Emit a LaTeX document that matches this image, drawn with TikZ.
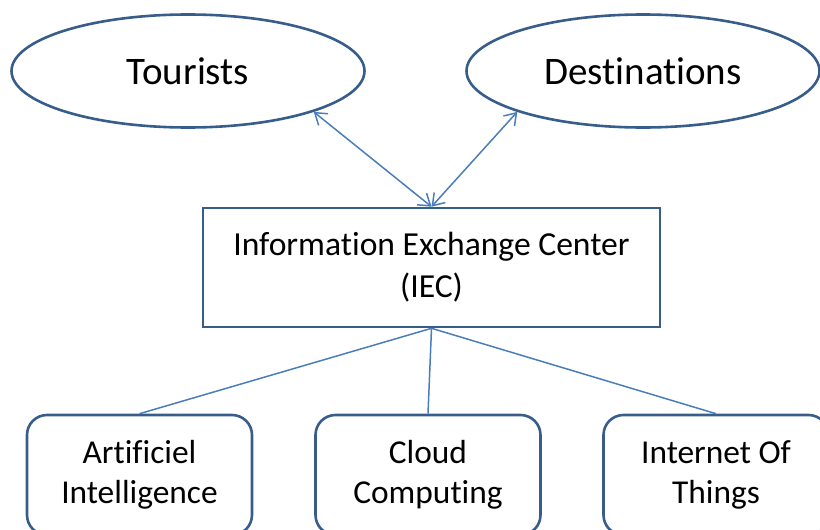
\documentclass[tikz,border=0pt]{standalone}
\usepackage{fontspec}
\setmainfont{Carlito}[Ligatures=NoCommon]
\usetikzlibrary{arrows.meta,shapes.geometric}
\definecolor{ovalBlue}{RGB}{56,93,138}
\definecolor{linkBlue}{RGB}{74,126,187}

\begin{document}
\begin{tikzpicture}[x=0.5pt,y=-0.5pt,
    party/.style={ellipse, draw=ovalBlue, line width=1.3pt, minimum width=176.5pt, minimum height=56.5pt, font=\fontsize{19.5}{23}\selectfont},
    hub/.style={rectangle, draw=ovalBlue, line width=1.3pt, minimum width=228.5pt, minimum height=59.5pt, align=center, font=\fontsize{16.8}{21}\selectfont},
    tech/.style={rectangle, rounded corners=10pt, draw=ovalBlue, line width=1.3pt, minimum width=112.5pt, minimum height=60pt, align=center, font=\fontsize{16.7}{20}\selectfont},
    link/.style={linkBlue, line width=0.75pt},
    barb/.style={{Straight Barb[length=5.5pt,width=7.5pt]}-{Straight Barb[length=5.5pt,width=7.5pt]}}]
    \useasboundingbox (0,0) rectangle (820,530);
    \clip (0,0) rectangle (820,530);

    \node[party] (tourists) at (188,71) {Tourists};
    \node[party] (dest) at (643,71) {Destinations};

    \node[hub] (iec) at (431.5,267.5) {Information Exchange Center\\(IEC)};

    \node[tech] (ai) at (139.5,475) {Artificiel\\Intelligence};
    \node[tech] (cloud) at (428,475) {Cloud\\Computing};
    \node[tech] (iot) at (716,475) {Internet Of\\Things};

    \draw[link, barb] (tourists.-18) -- (iec.north);
    \draw[link, barb] (dest.-162) -- (iec.north);

    \draw[link] (iec.south) -- (ai.north);
    \draw[link] (iec.south) -- (cloud.north);
    \draw[link] (iec.south) -- (iot.north);
\end{tikzpicture}
\end{document}
